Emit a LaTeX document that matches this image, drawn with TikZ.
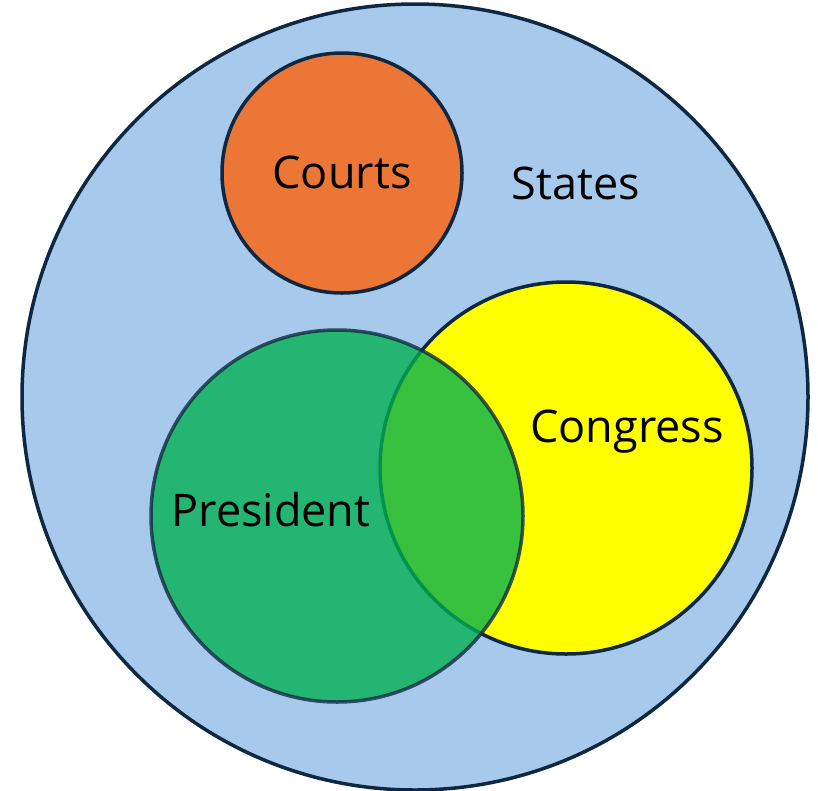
\documentclass[tikz,border=0pt]{standalone}
\usepackage{fontspec}
\setmainfont{Open Sans}
\definecolor{statesblue}{HTML}{A7CAEC}
\definecolor{courtsorange}{HTML}{EB7635}
\definecolor{congressyellow}{HTML}{FFFF00}
\definecolor{presidentgreen}{HTML}{00B050}
\definecolor{rimnavy}{HTML}{0E2841}
\begin{document}
\begin{tikzpicture}[x=1pt, y=-1pt,
  every node/.style = {font=\fontsize{45}{45}\selectfont, text=black},
  set/.style = {shape=circle, draw=rimnavy, line width=3.5pt, inner sep=0pt}]
  \useasboundingbox (0,0) rectangle (818,790);
  \node[set, fill=statesblue, minimum size=786pt] (states) at (415,397) {};
  \node[set, fill=courtsorange, minimum size=240pt] (courts) at (342,173) {};
  \node[set, fill=congressyellow, minimum size=372pt] (congress) at (566,468) {};
  \node[set, fill=presidentgreen, minimum size=372pt, opacity=0.78] (president) at (337,516) {};
  \node at ([yshift=1pt]courts.center) {Courts};
  \node at (576,183) {States};
  \node at ([xshift=61pt, yshift=36pt]congress.center) {Congress};
  \node at ([xshift=-66pt, yshift=6pt]president.center) {President};
\end{tikzpicture}
\end{document}
